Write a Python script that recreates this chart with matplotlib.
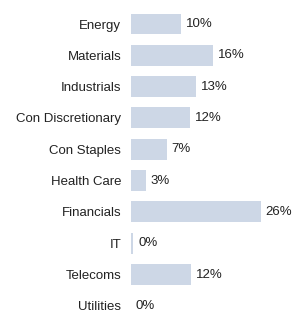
import matplotlib
matplotlib.use("Agg")
import matplotlib.pyplot as plt

categories = ["Energy", "Materials", "Industrials", "Con Discretionary", "Con Staples",
              "Health Care", "Financials", "IT", "Telecoms", "Utilities"]
values = [10.1, 16.4, 13.0, 11.9, 7.2, 3.0, 26.0, 0.5, 12.0, 0.0]
labels = ["10%", "16%", "13%", "12%", "7%", "3%", "26%", "0%", "12%", "0%"]

plt.rcParams['font.family'] = ['Liberation Sans', 'DejaVu Sans']
W, H = 292, 313
fig = plt.figure(figsize=(W/100, H/100), dpi=100)
ax = fig.add_axes([131/W, 0, 1 - 131/W, 1])
ypos = list(range(len(categories)))
ax.barh(ypos, values, height=0.67, color="#cdd7e6", edgecolor="none")
sp = 31.33
ax.set_ylim((H - 24) / sp, -24 / sp)
ax.set_xlim(0, 160 / 4.96)
ax.set_yticks(ypos)
ax.set_yticklabels(categories, fontsize=9.5, color="#222222")
ax.tick_params(axis='y', length=0, pad=7)
ax.set_xticks([])
for s in ax.spines.values():
    s.set_visible(False)
for y, v, l in zip(ypos, values, labels):
    ax.annotate(l, (v, y), xytext=(3.5, 0), textcoords="offset points",
                va="center", ha="left", fontsize=9.5, color="#222222")
fig.savefig("out.png", dpi=100)
